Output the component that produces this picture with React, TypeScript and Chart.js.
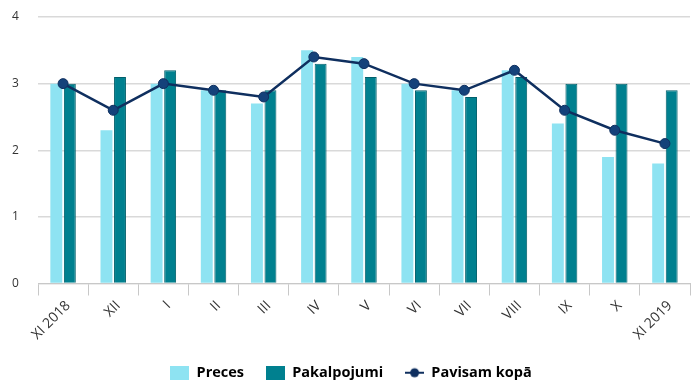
import React, { useEffect, useRef } from "react";
import { Chart, registerables } from "chart.js";

Chart.register(...registerables);

const categories = ["XI 2018", "XII", "I", "II", "III", "IV", "V", "VI", "VII", "VIII", "IX", "X", "XI 2019"];
const preces = [3.0, 2.3, 3.0, 2.9, 2.7, 3.5, 3.4, 3.0, 2.9, 3.2, 2.4, 1.9, 1.8];
const pakalpojumi = [3.0, 3.1, 3.2, 2.9, 2.9, 3.3, 3.1, 2.9, 2.8, 3.1, 3.0, 3.0, 2.9];
const pavisam = [3.0, 2.6, 3.0, 2.9, 2.8, 3.4, 3.3, 3.0, 2.9, 3.2, 2.6, 2.3, 2.1];
const yTicks = [0, 1, 2, 3, 4];

const LIGHT = "#8ee3f2";
const DARK = "#00808f";
const NAVY = "#0f2f5f";

function rectImg(color: string) {
  const c = document.createElement("canvas");
  c.width = 19;
  c.height = 14;
  const g = c.getContext("2d")!;
  g.fillStyle = color;
  g.fillRect(0, 0, 19, 14);
  return c;
}
function lineImg() {
  const c = document.createElement("canvas");
  c.width = 19;
  c.height = 12;
  const g = c.getContext("2d")!;
  g.strokeStyle = NAVY;
  g.lineWidth = 2;
  g.beginPath();
  g.moveTo(0, 6);
  g.lineTo(19, 6);
  g.stroke();
  g.fillStyle = NAVY;
  g.beginPath();
  g.arc(9.5, 6, 4.5, 0, Math.PI * 2);
  g.fill();
  return c;
}

export default function App() {
  const ref = useRef<HTMLCanvasElement>(null);
  useEffect(() => {
    document.body.style.margin = "0";
    const imgs = [rectImg(LIGHT), rectImg(DARK), lineImg()];
    const chart = new Chart(ref.current!, {
      type: "bar",
      data: {
        labels: categories,
        datasets: [
          {
            type: "line",
            label: "Pavisam kopā",
            data: pavisam,
            borderColor: NAVY,
            backgroundColor: NAVY,
            borderWidth: 2.5,
            pointRadius: 5,
            pointBackgroundColor: "#14427a",
            pointBorderColor: NAVY,
            pointBorderWidth: 1,
            tension: 0,
            order: 0,
          },
          {
            label: "Preces",
            data: preces,
            backgroundColor: LIGHT,
            borderWidth: 0,
            barPercentage: 0.88,
            categoryPercentage: 0.54,
            order: 1,
          },
          {
            label: "Pakalpojumi",
            data: pakalpojumi,
            backgroundColor: DARK,
            borderColor: "#005f6b",
            borderWidth: 1,
            barPercentage: 0.88,
            categoryPercentage: 0.54,
            order: 1,
          },
        ] as any,
      },
      options: {
        animation: false,
        responsive: false,
        maintainAspectRatio: false,
        layout: { padding: { top: 17, right: 10, left: 12, bottom: -1 } },
        plugins: {
          tooltip: { enabled: false },
          legend: {
            position: "bottom",
            labels: {
              usePointStyle: true,
              pointStyleWidth: 19,
              boxWidth: 19,
              padding: 22,
              color: "#333",
              font: { family: "Open Sans", size: 14.5, weight: "bold" },
              generateLabels: () => [
                { text: "Preces", pointStyle: imgs[0], fillStyle: LIGHT, strokeStyle: LIGHT, lineWidth: 0, hidden: false, datasetIndex: 1 },
                { text: "Pakalpojumi", pointStyle: imgs[1], fillStyle: DARK, strokeStyle: DARK, lineWidth: 0, hidden: false, datasetIndex: 2 },
                { text: "Pavisam kopā", pointStyle: imgs[2], fillStyle: NAVY, strokeStyle: NAVY, lineWidth: 0, hidden: false, datasetIndex: 0 },
              ] as any,
            },
          },
        },
        scales: {
          x: {
            offset: true,
            afterFit: (s: any) => {
              s.height = 60;
            },
            grid: { offset: true, drawOnChartArea: false, drawTicks: true, tickLength: 12, color: "#c8c8c8" },
            border: { color: "#c8c8c8" },
            ticks: {
              color: "#333",
              maxRotation: 45,
              minRotation: 45,
              labelOffset: 5,
              padding: 2,
              font: { family: "Open Sans", size: 14 },
            },
          },
          y: {
            min: 0,
            max: 4,
            afterBuildTicks: (axis: any) => {
              axis.ticks = yTicks.map((v) => ({ value: v }));
            },
            afterFit: (s: any) => {
              s.width = 26;
            },
            grid: { color: "#d9d9d9", drawTicks: false, lineWidth: 1.5 },
            border: { display: false },
            ticks: {
              color: "#333",
              padding: 0,
              crossAlign: "far",
              font: { family: "Open Sans", size: 12 },
            },
          },
        },
      },
    });
    return () => chart.destroy();
  }, []);
  return (
    <div style={{ width: 700, height: 389, background: "#fff" }}>
      <canvas ref={ref} width={700} height={389} />
    </div>
  );
}
